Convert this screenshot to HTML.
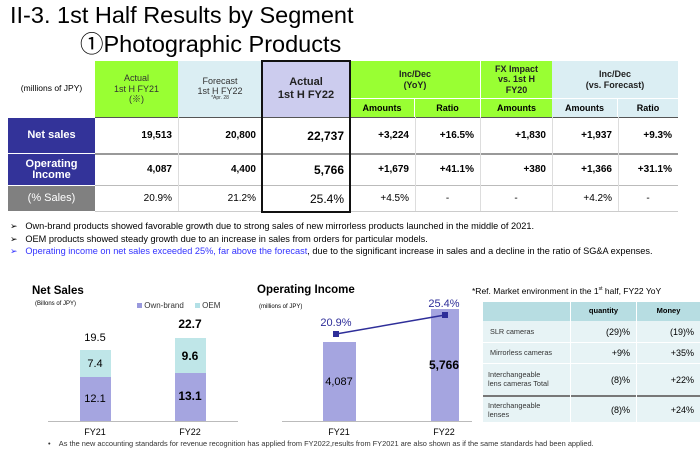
<!DOCTYPE html>
<html><head><meta charset="utf-8"><style>
*{margin:0;padding:0;box-sizing:border-box}
body{width:700px;height:450px;background:#fff;font-family:"Liberation Sans",Arial,"Noto Sans CJK JP",sans-serif;position:relative;overflow:hidden;color:#000}
.a{position:absolute}
.c{position:absolute;display:flex;align-items:center;justify-content:center;text-align:center;line-height:1.15}
.r{position:absolute;display:flex;align-items:center;justify-content:flex-end;padding-right:6px;font-weight:bold;font-size:10px}
.n{font-weight:normal}
</style></head><body>
<div class="a" style="left:10px;top:2px;font-size:23.5px;line-height:26px">II-3. 1st Half Results by Segment</div>
<div class="a" style="left:80px;top:31px;font-size:23.5px;line-height:26px">①Photographic Products</div>

<div class="c" style="left:8px;top:61px;width:87px;height:56px;font-size:8.5px">(millions of JPY)</div>
<div class="c" style="left:95px;top:61px;width:83px;height:56px;background:#99ff33;font-size:9px;color:#333">Actual<br>1st H FY21<br>(※)</div>
<div class="c" style="left:178px;top:61px;width:84px;height:56px;background:#dbeef3;font-size:9px;color:#333;flex-direction:column">Forecast<br>1st H FY22<span style="font-size:5px">*Apr. 28</span></div>
<div class="c" style="left:262px;top:61px;width:88px;height:56px;background:#ccccee;font-size:11px;font-weight:bold;color:#222">Actual<br>1st H FY22</div>
<div class="c" style="left:350px;top:61px;width:130px;height:37px;background:#99ff33;font-size:9px;font-weight:bold;color:#222">Inc/Dec<br>(YoY)</div>
<div class="c" style="left:480px;top:61px;width:72px;height:37px;background:#99ff33;font-size:9px;font-weight:bold;color:#222;border-left:1px solid #fff">FX Impact<br>vs. 1st H<br>FY20</div>
<div class="c" style="left:552px;top:61px;width:126px;height:37px;background:#dbeef3;font-size:9px;font-weight:bold;color:#222">Inc/Dec<br>(vs. Forecast)</div>
<div class="c" style="left:350px;top:99px;width:65px;height:18px;background:#99ff33;font-size:9px;font-weight:bold;border-right:1px solid #fff">Amounts</div>
<div class="c" style="left:415px;top:99px;width:65px;height:18px;background:#99ff33;font-size:9px;font-weight:bold">Ratio</div>
<div class="c" style="left:480px;top:99px;width:72px;height:18px;background:#99ff33;font-size:9px;font-weight:bold;border-left:1px solid #fff">Amounts</div>
<div class="c" style="left:552px;top:99px;width:66px;height:18px;background:#dbeef3;font-size:9px;font-weight:bold;border-right:1px solid #fff">Amounts</div>
<div class="c" style="left:618px;top:99px;width:60px;height:18px;background:#dbeef3;font-size:9px;font-weight:bold">Ratio</div>
<div class="a" style="left:350px;top:98px;width:328px;height:1px;background:#fff"></div>

<div class="c" style="left:8px;top:118px;width:87px;height:35px;background:#333399;color:#fff;font-weight:bold;font-size:11px">Net sales</div>
<div class="c" style="left:8px;top:154px;width:87px;height:31px;background:#333399;color:#fff;font-weight:bold;font-size:11px;line-height:0.95">Operating<br>Income</div>
<div class="c" style="left:8px;top:186px;width:87px;height:25px;background:#808080;color:#fff;font-size:11px">(% Sales)</div>
<div class="a" style="left:95px;top:117px;width:583px;height:1px;background:#555"></div>
<div class="a" style="left:95px;top:153px;width:583px;height:2px;background:#999"></div>
<div class="a" style="left:95px;top:185px;width:583px;height:1px;background:#bbb"></div>
<div class="a" style="left:95px;top:211px;width:583px;height:1px;background:#ccc"></div>
<div class="a" style="left:178px;top:117px;width:1px;height:94px;background:#ddd"></div>
<div class="a" style="left:415px;top:117px;width:1px;height:94px;background:#ddd"></div>
<div class="a" style="left:480px;top:117px;width:1px;height:94px;background:#ddd"></div>
<div class="a" style="left:552px;top:117px;width:1px;height:94px;background:#ddd"></div>
<div class="a" style="left:618px;top:117px;width:1px;height:94px;background:#ddd"></div>
<div class="a" style="left:261px;top:60px;width:90px;height:153px;border:2px solid #111"></div>

<div class="r" style="left:95px;top:118px;width:83px;height:35px">19,513</div>
<div class="r" style="left:178px;top:118px;width:84px;height:35px">20,800</div>
<div class="r" style="left:262px;top:118px;width:88px;height:35px;font-size:12px">22,737</div>
<div class="r" style="left:350px;top:118px;width:65px;height:35px">+3,224</div>
<div class="r" style="left:415px;top:118px;width:65px;height:35px">+16.5%</div>
<div class="r" style="left:480px;top:118px;width:72px;height:35px">+1,830</div>
<div class="r" style="left:552px;top:118px;width:66px;height:35px">+1,937</div>
<div class="r" style="left:618px;top:118px;width:60px;height:35px">+9.3%</div>

<div class="r" style="left:95px;top:154px;width:83px;height:31px">4,087</div>
<div class="r" style="left:178px;top:154px;width:84px;height:31px">4,400</div>
<div class="r" style="left:262px;top:154px;width:88px;height:31px;font-size:12px">5,766</div>
<div class="r" style="left:350px;top:154px;width:65px;height:31px">+1,679</div>
<div class="r" style="left:415px;top:154px;width:65px;height:31px">+41.1%</div>
<div class="r" style="left:480px;top:154px;width:72px;height:31px">+380</div>
<div class="r" style="left:552px;top:154px;width:66px;height:31px">+1,366</div>
<div class="r" style="left:618px;top:154px;width:60px;height:31px">+31.1%</div>

<div class="r n" style="left:95px;top:186px;width:83px;height:25px">20.9%</div>
<div class="r n" style="left:178px;top:186px;width:84px;height:25px">21.2%</div>
<div class="r n" style="left:262px;top:186px;width:88px;height:25px;font-size:12px">25.4%</div>
<div class="r n" style="left:350px;top:186px;width:65px;height:25px">+4.5%</div>
<div class="c" style="left:415px;top:186px;width:65px;height:25px;font-size:10px">-</div>
<div class="c" style="left:480px;top:186px;width:72px;height:25px;font-size:10px">-</div>
<div class="r n" style="left:552px;top:186px;width:66px;height:25px">+4.2%</div>
<div class="c" style="left:618px;top:186px;width:60px;height:25px;font-size:10px">-</div>

<div class="a" style="left:10px;top:220px;font-size:9.2px;line-height:12.5px;white-space:nowrap">
<div>➢&nbsp;&nbsp;&nbsp;Own-brand products showed favorable growth due to strong sales of new mirrorless products launched in the middle of 2021.</div>
<div>➢&nbsp;&nbsp;&nbsp;OEM products showed steady growth due to an increase in sales from orders for particular models.</div>
<div><span style="color:#3333ff">➢&nbsp;&nbsp;&nbsp;Operating income on net sales exceeded 25%, far above the forecast</span>, due to the significant increase in sales and a decline in the ratio of SG&amp;A expenses.</div>
</div>

<div class="a" style="left:32px;top:285px;font-size:11.5px;font-weight:bold">Net Sales</div>
<div class="a" style="left:35px;top:301px;font-size:6px">(Billons of JPY)</div>
<div class="a" style="left:137px;top:301px;font-size:8px;color:#333"><span style="display:inline-block;width:5px;height:5px;background:#9999dd"></span> Own-brand&nbsp;&nbsp;&nbsp;&nbsp;&nbsp;<span style="display:inline-block;width:5px;height:5px;background:#b3e0e6"></span> OEM</div>
<div class="a" style="left:80px;top:350px;width:31px;height:27px;background:#bfe6e8"></div>
<div class="a" style="left:80px;top:377px;width:31px;height:44px;background:#a5a5e0"></div>
<div class="a" style="left:175px;top:338px;width:31px;height:35px;background:#bfe6e8"></div>
<div class="a" style="left:175px;top:373px;width:31px;height:48px;background:#a5a5e0"></div>
<div class="a" style="left:48px;top:421px;width:190px;height:1px;background:#bbb"></div>
<div class="c" style="left:70px;top:331px;width:50px;height:14px;font-size:11px">19.5</div>
<div class="c" style="left:70px;top:357px;width:50px;height:14px;font-size:11px">7.4</div>
<div class="c" style="left:70px;top:392px;width:50px;height:14px;font-size:11px">12.1</div>
<div class="c" style="left:165px;top:318px;width:50px;height:14px;font-size:12px;font-weight:bold">22.7</div>
<div class="c" style="left:165px;top:350px;width:50px;height:14px;font-size:12px;font-weight:bold">9.6</div>
<div class="c" style="left:165px;top:390px;width:50px;height:14px;font-size:12px;font-weight:bold">13.1</div>
<div class="c" style="left:70px;top:426px;width:50px;height:12px;font-size:9px">FY21</div>
<div class="c" style="left:165px;top:426px;width:50px;height:12px;font-size:9px">FY22</div>

<div class="a" style="left:257px;top:284px;font-size:11.5px;font-weight:bold">Operating Income</div>
<div class="a" style="left:259px;top:304px;font-size:6px">(millions of JPY)</div>
<div class="a" style="left:323px;top:342px;width:33px;height:79px;background:#a5a5e0"></div>
<div class="a" style="left:431px;top:309px;width:28px;height:112px;background:#a5a5e0"></div>
<div class="a" style="left:282px;top:421px;width:190px;height:1px;background:#bbb"></div>
<svg class="a" style="left:0;top:0" width="700" height="450"><line x1="336" y1="334" x2="445" y2="315" stroke="#2e2e99" stroke-width="1.5"/><rect x="333" y="331" width="6" height="6" fill="#2e2e99"/><rect x="442" y="312" width="6" height="6" fill="#2e2e99"/></svg>
<div class="c" style="left:311px;top:316px;width:50px;height:14px;font-size:11px;color:#2e2e99">20.9%</div>
<div class="c" style="left:419px;top:297px;width:50px;height:14px;font-size:11px;color:#2e2e99">25.4%</div>
<div class="c" style="left:314px;top:375px;width:50px;height:14px;font-size:11px">4,087</div>
<div class="c" style="left:419px;top:359px;width:50px;height:14px;font-size:12px;font-weight:bold">5,766</div>
<div class="c" style="left:314px;top:426px;width:50px;height:12px;font-size:9px">FY21</div>
<div class="c" style="left:419px;top:426px;width:50px;height:12px;font-size:9px">FY22</div>

<div class="a" style="left:472px;top:286px;font-size:8.5px">*Ref. Market environment in the 1<sup style="font-size:5px">st</sup> half, FY22 YoY</div>
<div class="a" style="left:483px;top:302px;width:217px;height:19px;background:#b7dde2"></div>
<div class="c" style="left:570px;top:302px;width:66px;height:19px;font-size:7.5px;font-weight:bold;border-left:1px solid #fff">quantity</div>
<div class="c" style="left:636px;top:302px;width:64px;height:19px;font-size:7.5px;font-weight:bold;border-left:1px solid #fff">Money</div>
<div class="a" style="left:483px;top:321px;width:217px;height:101px;background:#e7f3f5"></div>
<div class="a" style="left:483px;top:342px;width:217px;height:1px;background:#fff"></div>
<div class="a" style="left:483px;top:363px;width:217px;height:1px;background:#fff"></div>
<div class="a" style="left:483px;top:395px;width:217px;height:2px;background:#777"></div>
<div class="a" style="left:570px;top:321px;width:1px;height:101px;background:#fff"></div>
<div class="a" style="left:636px;top:321px;width:1px;height:101px;background:#fff"></div>
<div class="a" style="left:490px;top:327px;font-size:7.3px;color:#333">SLR cameras</div>
<div class="a" style="left:490px;top:348px;font-size:7.3px;color:#333">Mirrorless cameras</div>
<div class="a" style="left:488px;top:370px;font-size:7.3px;color:#333;line-height:9px">Interchangeable<br>lens cameras Total</div>
<div class="a" style="left:488px;top:401px;font-size:7.3px;color:#333;line-height:9px">Interchangeable<br>lenses</div>
<div class="r n" style="left:570px;top:321px;width:66px;height:21px;font-size:9px">(29)%</div>
<div class="r n" style="left:636px;top:321px;width:64px;height:21px;font-size:9px">(19)%</div>
<div class="r n" style="left:570px;top:343px;width:66px;height:20px;font-size:9px">+9%</div>
<div class="r n" style="left:636px;top:343px;width:64px;height:20px;font-size:9px">+35%</div>
<div class="r n" style="left:570px;top:364px;width:66px;height:31px;font-size:9px">(8)%</div>
<div class="r n" style="left:636px;top:364px;width:64px;height:31px;font-size:9px">+22%</div>
<div class="r n" style="left:570px;top:397px;width:66px;height:25px;font-size:9px">(8)%</div>
<div class="r n" style="left:636px;top:397px;width:64px;height:25px;font-size:9px">+24%</div>

<div class="a" style="left:48px;top:439px;font-size:7.4px;color:#333;white-space:nowrap">•&nbsp;&nbsp;&nbsp;&nbsp;As the new accounting standards for revenue recognition has applied from FY2022,results from FY2021 are also shown as if the same standards had been applied.</div>
</body></html>
